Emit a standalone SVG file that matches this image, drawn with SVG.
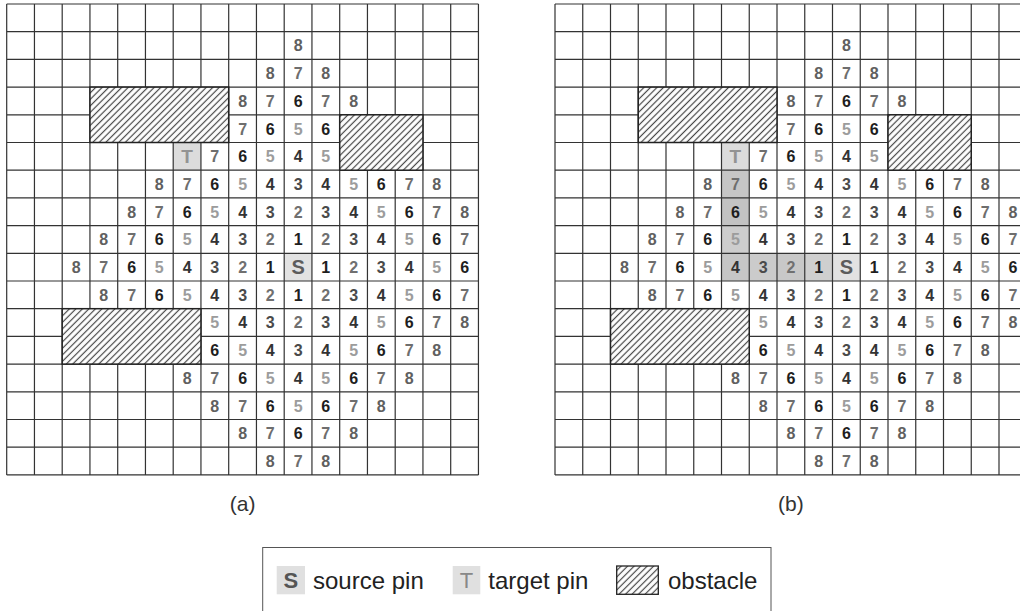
<svg xmlns="http://www.w3.org/2000/svg" xmlns:xlink="http://www.w3.org/1999/xlink" width="1020" height="611" viewBox="0 0 1020 611">
<style>
text{font-family:"Liberation Sans",Arial,Helvetica,sans-serif}
.nums text{font-size:16px;font-weight:bold;text-anchor:middle}
.c1{fill:#1e1e1e}.c2{fill:#707070}.c3{fill:#4a4a4a}.c4{fill:#333}.c5{fill:#9c9c9c}.c6{fill:#1e1e1e}.c7{fill:#6e6e6e}.c8{fill:#606060}
.grid{fill:none;stroke:#333;stroke-width:1.2}
.obs{fill:url(#hatch);stroke:#222;stroke-width:1.5}
.pin{fill:#e2e2e2}
.tpin{fill:#dcdcdc}
.S{font-size:20px;font-weight:bold;fill:#5c5c5c;text-anchor:middle}
.T{font-size:19px;font-weight:bold;fill:#939393;text-anchor:middle}
.cap{font-size:21px;fill:#333;text-anchor:middle}
.leg{font-size:24px;fill:#222}
</style>
<defs>
<pattern id="hatch" patternUnits="userSpaceOnUse" width="4.6" height="4.6" patternTransform="rotate(45)">
<rect width="4.6" height="4.6" fill="#fff"/>
<line x1="2.3" y1="0" x2="2.3" y2="4.6" stroke="#444" stroke-width="1.2"/>
</pattern>
<path id="gridlines" d="M0 0V470.9M27.75 0V470.9M55.5 0V470.9M83.25 0V470.9M111 0V470.9M138.75 0V470.9M166.5 0V470.9M194.25 0V470.9M222 0V470.9M249.75 0V470.9M277.5 0V470.9M305.25 0V470.9M333 0V470.9M360.75 0V470.9M388.5 0V470.9M416.25 0V470.9M444 0V470.9M471.75 0V470.9M0 0H471.75M0 27.7H471.75M0 55.4H471.75M0 83.1H471.75M0 110.8H471.75M0 138.5H471.75M0 166.2H471.75M0 193.9H471.75M0 221.6H471.75M0 249.3H471.75M0 277H471.75M0 304.7H471.75M0 332.4H471.75M0 360.1H471.75M0 387.8H471.75M0 415.5H471.75M0 443.2H471.75M0 470.9H471.75"/>
</defs>
<rect width="1020" height="611" fill="#fff"/>

<!-- Panel (a) -->
<g id="panel-a" transform="translate(6.7,4)">
<rect class="pin" x="277.5" y="249.3" width="27.75" height="27.7"/>
<rect class="tpin" x="166.5" y="138.5" width="27.75" height="27.7"/>
<use href="#gridlines" class="grid"/>
<g id="a-obstacles">
<rect class="obs" x="83.25" y="83.1" width="138.75" height="55.4"/>
<rect class="obs" x="333" y="110.8" width="83.25" height="55.4"/>
<rect class="obs" x="55.5" y="304.7" width="138.75" height="55.4"/>
</g>
<text class="S" x="291.4" y="270.4">S</text>
<text class="T" x="180.4" y="159.2">T</text>
<g class="nums">
<g transform="translate(0,47.4)"><text class="c8" x="291.4">8</text></g>
<g transform="translate(0,75.1)"><text class="c8" x="263.6">8</text><text class="c7" x="291.4">7</text><text class="c8" x="319.1">8</text></g>
<g transform="translate(0,102.8)"><text class="c8" x="235.9">8</text><text class="c7" x="263.6">7</text><text class="c6" x="291.4">6</text><text class="c7" x="319.1">7</text><text class="c8" x="346.9">8</text></g>
<g transform="translate(0,130.5)"><text class="c7" x="235.9">7</text><text class="c6" x="263.6">6</text><text class="c5" x="291.4">5</text><text class="c6" x="319.1">6</text></g>
<g transform="translate(0,158.2)"><text class="c7" x="208.1">7</text><text class="c6" x="235.9">6</text><text class="c5" x="263.6">5</text><text class="c4" x="291.4">4</text><text class="c5" x="319.1">5</text></g>
<g transform="translate(0,185.9)"><text class="c8" x="152.6">8</text><text class="c7" x="180.4">7</text><text class="c6" x="208.1">6</text><text class="c5" x="235.9">5</text><text class="c4" x="263.6">4</text><text class="c3" x="291.4">3</text><text class="c4" x="319.1">4</text><text class="c5" x="346.9">5</text><text class="c6" x="374.6">6</text><text class="c7" x="402.4">7</text><text class="c8" x="430.1">8</text></g>
<g transform="translate(0,213.6)"><text class="c8" x="124.9">8</text><text class="c7" x="152.6">7</text><text class="c6" x="180.4">6</text><text class="c5" x="208.1">5</text><text class="c4" x="235.9">4</text><text class="c3" x="263.6">3</text><text class="c2" x="291.4">2</text><text class="c3" x="319.1">3</text><text class="c4" x="346.9">4</text><text class="c5" x="374.6">5</text><text class="c6" x="402.4">6</text><text class="c7" x="430.1">7</text><text class="c8" x="457.9">8</text></g>
<g transform="translate(0,241.3)"><text class="c8" x="97.1">8</text><text class="c7" x="124.9">7</text><text class="c6" x="152.6">6</text><text class="c5" x="180.4">5</text><text class="c4" x="208.1">4</text><text class="c3" x="235.9">3</text><text class="c2" x="263.6">2</text><text class="c1" x="291.4">1</text><text class="c2" x="319.1">2</text><text class="c3" x="346.9">3</text><text class="c4" x="374.6">4</text><text class="c5" x="402.4">5</text><text class="c6" x="430.1">6</text><text class="c7" x="457.9">7</text></g>
<g transform="translate(0,269)"><text class="c8" x="69.4">8</text><text class="c7" x="97.1">7</text><text class="c6" x="124.9">6</text><text class="c5" x="152.6">5</text><text class="c4" x="180.4">4</text><text class="c3" x="208.1">3</text><text class="c2" x="235.9">2</text><text class="c1" x="263.6">1</text><text class="c1" x="319.1">1</text><text class="c2" x="346.9">2</text><text class="c3" x="374.6">3</text><text class="c4" x="402.4">4</text><text class="c5" x="430.1">5</text><text class="c6" x="457.9">6</text></g>
<g transform="translate(0,296.7)"><text class="c8" x="97.1">8</text><text class="c7" x="124.9">7</text><text class="c6" x="152.6">6</text><text class="c5" x="180.4">5</text><text class="c4" x="208.1">4</text><text class="c3" x="235.9">3</text><text class="c2" x="263.6">2</text><text class="c1" x="291.4">1</text><text class="c2" x="319.1">2</text><text class="c3" x="346.9">3</text><text class="c4" x="374.6">4</text><text class="c5" x="402.4">5</text><text class="c6" x="430.1">6</text><text class="c7" x="457.9">7</text></g>
<g transform="translate(0,324.4)"><text class="c5" x="208.1">5</text><text class="c4" x="235.9">4</text><text class="c3" x="263.6">3</text><text class="c2" x="291.4">2</text><text class="c3" x="319.1">3</text><text class="c4" x="346.9">4</text><text class="c5" x="374.6">5</text><text class="c6" x="402.4">6</text><text class="c7" x="430.1">7</text><text class="c8" x="457.9">8</text></g>
<g transform="translate(0,352.1)"><text class="c6" x="208.1">6</text><text class="c5" x="235.9">5</text><text class="c4" x="263.6">4</text><text class="c3" x="291.4">3</text><text class="c4" x="319.1">4</text><text class="c5" x="346.9">5</text><text class="c6" x="374.6">6</text><text class="c7" x="402.4">7</text><text class="c8" x="430.1">8</text></g>
<g transform="translate(0,379.8)"><text class="c8" x="180.4">8</text><text class="c7" x="208.1">7</text><text class="c6" x="235.9">6</text><text class="c5" x="263.6">5</text><text class="c4" x="291.4">4</text><text class="c5" x="319.1">5</text><text class="c6" x="346.9">6</text><text class="c7" x="374.6">7</text><text class="c8" x="402.4">8</text></g>
<g transform="translate(0,407.5)"><text class="c8" x="208.1">8</text><text class="c7" x="235.9">7</text><text class="c6" x="263.6">6</text><text class="c5" x="291.4">5</text><text class="c6" x="319.1">6</text><text class="c7" x="346.9">7</text><text class="c8" x="374.6">8</text></g>
<g transform="translate(0,435.2)"><text class="c8" x="235.9">8</text><text class="c7" x="263.6">7</text><text class="c6" x="291.4">6</text><text class="c7" x="319.1">7</text><text class="c8" x="346.9">8</text></g>
<g transform="translate(0,462.9)"><text class="c8" x="263.6">8</text><text class="c7" x="291.4">7</text><text class="c8" x="319.1">8</text></g>
</g>
</g>
<text id="caption-a" class="cap" x="242.6" y="511">(a)</text>

<!-- Panel (b) -->
<g id="panel-b" transform="translate(555,4)">
<rect class="pin" x="277.5" y="249.3" width="27.75" height="27.7"/>
<rect class="tpin" x="166.5" y="138.5" width="27.75" height="27.7"/>
<g id="b-route">
<rect x="166.5" y="166.2" width="27.75" height="27.7" fill="#c6c6c6"/>
<rect x="166.5" y="193.9" width="27.75" height="27.7" fill="#c3c3c3"/>
<rect x="166.5" y="221.6" width="27.75" height="27.7" fill="#cdcdcd"/>
<rect x="166.5" y="249.3" width="27.75" height="27.7" fill="#c6c6c6"/>
<rect x="194.25" y="249.3" width="27.75" height="27.7" fill="#cbcbcb"/>
<rect x="222" y="249.3" width="27.75" height="27.7" fill="#c8c8c8"/>
<rect x="249.75" y="249.3" width="27.75" height="27.7" fill="#cfcfcf"/>
</g>
<use href="#gridlines" class="grid"/>
<g id="b-obstacles">
<rect class="obs" x="83.25" y="83.1" width="138.75" height="55.4"/>
<rect class="obs" x="333" y="110.8" width="83.25" height="55.4"/>
<rect class="obs" x="55.5" y="304.7" width="138.75" height="55.4"/>
</g>
<text class="S" x="291.4" y="270.4">S</text>
<text class="T" x="180.4" y="159.2">T</text>
<g class="nums">
<g transform="translate(0,47.4)"><text class="c8" x="291.4">8</text></g>
<g transform="translate(0,75.1)"><text class="c8" x="263.6">8</text><text class="c7" x="291.4">7</text><text class="c8" x="319.1">8</text></g>
<g transform="translate(0,102.8)"><text class="c8" x="235.9">8</text><text class="c7" x="263.6">7</text><text class="c6" x="291.4">6</text><text class="c7" x="319.1">7</text><text class="c8" x="346.9">8</text></g>
<g transform="translate(0,130.5)"><text class="c7" x="235.9">7</text><text class="c6" x="263.6">6</text><text class="c5" x="291.4">5</text><text class="c6" x="319.1">6</text></g>
<g transform="translate(0,158.2)"><text class="c7" x="208.1">7</text><text class="c6" x="235.9">6</text><text class="c5" x="263.6">5</text><text class="c4" x="291.4">4</text><text class="c5" x="319.1">5</text></g>
<g transform="translate(0,185.9)"><text class="c8" x="152.6">8</text><text class="c7" x="180.4">7</text><text class="c6" x="208.1">6</text><text class="c5" x="235.9">5</text><text class="c4" x="263.6">4</text><text class="c3" x="291.4">3</text><text class="c4" x="319.1">4</text><text class="c5" x="346.9">5</text><text class="c6" x="374.6">6</text><text class="c7" x="402.4">7</text><text class="c8" x="430.1">8</text></g>
<g transform="translate(0,213.6)"><text class="c8" x="124.9">8</text><text class="c7" x="152.6">7</text><text class="c6" x="180.4">6</text><text class="c5" x="208.1">5</text><text class="c4" x="235.9">4</text><text class="c3" x="263.6">3</text><text class="c2" x="291.4">2</text><text class="c3" x="319.1">3</text><text class="c4" x="346.9">4</text><text class="c5" x="374.6">5</text><text class="c6" x="402.4">6</text><text class="c7" x="430.1">7</text><text class="c8" x="457.9">8</text></g>
<g transform="translate(0,241.3)"><text class="c8" x="97.1">8</text><text class="c7" x="124.9">7</text><text class="c6" x="152.6">6</text><text class="c5" x="180.4">5</text><text class="c4" x="208.1">4</text><text class="c3" x="235.9">3</text><text class="c2" x="263.6">2</text><text class="c1" x="291.4">1</text><text class="c2" x="319.1">2</text><text class="c3" x="346.9">3</text><text class="c4" x="374.6">4</text><text class="c5" x="402.4">5</text><text class="c6" x="430.1">6</text><text class="c7" x="457.9">7</text></g>
<g transform="translate(0,269)"><text class="c8" x="69.4">8</text><text class="c7" x="97.1">7</text><text class="c6" x="124.9">6</text><text class="c5" x="152.6">5</text><text class="c4" x="180.4">4</text><text class="c3" x="208.1">3</text><text class="c2" x="235.9">2</text><text class="c1" x="263.6">1</text><text class="c1" x="319.1">1</text><text class="c2" x="346.9">2</text><text class="c3" x="374.6">3</text><text class="c4" x="402.4">4</text><text class="c5" x="430.1">5</text><text class="c6" x="457.9">6</text></g>
<g transform="translate(0,296.7)"><text class="c8" x="97.1">8</text><text class="c7" x="124.9">7</text><text class="c6" x="152.6">6</text><text class="c5" x="180.4">5</text><text class="c4" x="208.1">4</text><text class="c3" x="235.9">3</text><text class="c2" x="263.6">2</text><text class="c1" x="291.4">1</text><text class="c2" x="319.1">2</text><text class="c3" x="346.9">3</text><text class="c4" x="374.6">4</text><text class="c5" x="402.4">5</text><text class="c6" x="430.1">6</text><text class="c7" x="457.9">7</text></g>
<g transform="translate(0,324.4)"><text class="c5" x="208.1">5</text><text class="c4" x="235.9">4</text><text class="c3" x="263.6">3</text><text class="c2" x="291.4">2</text><text class="c3" x="319.1">3</text><text class="c4" x="346.9">4</text><text class="c5" x="374.6">5</text><text class="c6" x="402.4">6</text><text class="c7" x="430.1">7</text><text class="c8" x="457.9">8</text></g>
<g transform="translate(0,352.1)"><text class="c6" x="208.1">6</text><text class="c5" x="235.9">5</text><text class="c4" x="263.6">4</text><text class="c3" x="291.4">3</text><text class="c4" x="319.1">4</text><text class="c5" x="346.9">5</text><text class="c6" x="374.6">6</text><text class="c7" x="402.4">7</text><text class="c8" x="430.1">8</text></g>
<g transform="translate(0,379.8)"><text class="c8" x="180.4">8</text><text class="c7" x="208.1">7</text><text class="c6" x="235.9">6</text><text class="c5" x="263.6">5</text><text class="c4" x="291.4">4</text><text class="c5" x="319.1">5</text><text class="c6" x="346.9">6</text><text class="c7" x="374.6">7</text><text class="c8" x="402.4">8</text></g>
<g transform="translate(0,407.5)"><text class="c8" x="208.1">8</text><text class="c7" x="235.9">7</text><text class="c6" x="263.6">6</text><text class="c5" x="291.4">5</text><text class="c6" x="319.1">6</text><text class="c7" x="346.9">7</text><text class="c8" x="374.6">8</text></g>
<g transform="translate(0,435.2)"><text class="c8" x="235.9">8</text><text class="c7" x="263.6">7</text><text class="c6" x="291.4">6</text><text class="c7" x="319.1">7</text><text class="c8" x="346.9">8</text></g>
<g transform="translate(0,462.9)"><text class="c8" x="263.6">8</text><text class="c7" x="291.4">7</text><text class="c8" x="319.1">8</text></g>
</g>
</g>
<text id="caption-b" class="cap" x="790.9" y="511">(b)</text>

<!-- Legend -->
<g id="legend">
<rect x="262.7" y="547.5" width="508.3" height="80" fill="#fff" stroke="#555" stroke-width="1"/>
<g id="legend-source">
<rect x="276.7" y="566" width="28.3" height="28.3" fill="#e0e0e0"/>
<text x="290.9" y="588.2" style="font-size:22px;font-weight:bold;fill:#555;text-anchor:middle">S</text>
<text class="leg" x="313" y="589.4">source pin</text>
</g>
<g id="legend-target">
<rect x="452.7" y="566" width="27.6" height="28.3" fill="#e0e0e0"/>
<text x="466.5" y="588.2" style="font-size:22px;fill:#888;text-anchor:middle">T</text>
<text class="leg" x="488.3" y="589.4">target pin</text>
</g>
<g id="legend-obstacle">
<rect x="616.7" y="566" width="41.6" height="28.3" fill="url(#hatch)" stroke="#222" stroke-width="1.3"/>
<text class="leg" x="668" y="589.4">obstacle</text>
</g>
</g>
</svg>
